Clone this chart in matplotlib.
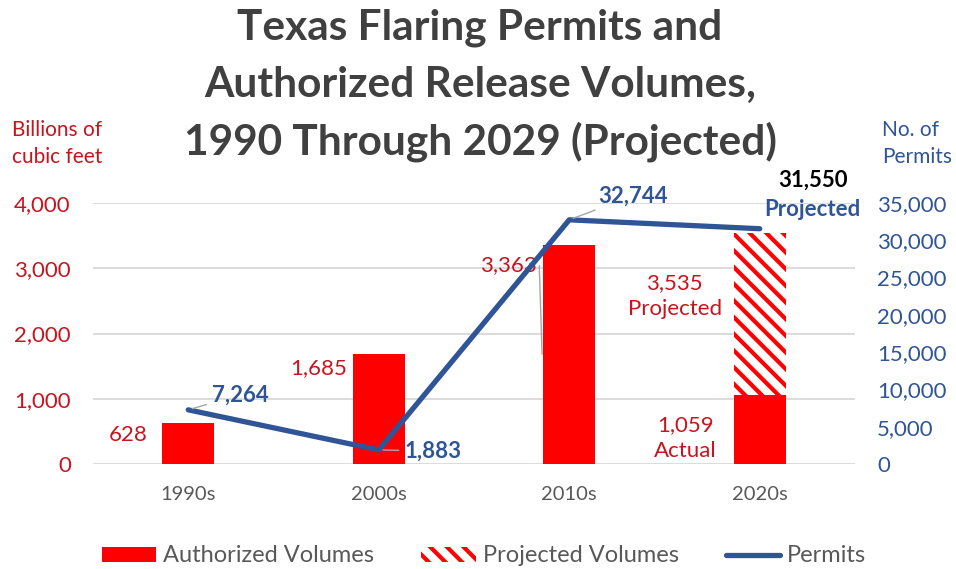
import matplotlib
matplotlib.use('Agg')
import matplotlib.pyplot as plt
from matplotlib.patches import Patch
from matplotlib.lines import Line2D

categories = ['1990s', '2000s', '2010s', '2020s']
authorized = [628, 1685, 3363, 1059]
projected_2020s = 3535
permits = [7264, 1883, 32744, 31550]
left_ticks = [0, 1000, 2000, 3000, 4000]
right_ticks = [0, 5000, 10000, 15000, 20000, 25000, 30000, 35000]
title_lines = ['Texas Flaring Permits and', 'Authorized Release Volumes,', '1990 Through 2029 (Projected)']

plt.rcParams['font.family'] = ['Lato', 'DejaVu Sans']
plt.rcParams['hatch.linewidth'] = 3.0

RED = '#FF0000'
DRED = '#C8141E'
BLUE = '#2F5597'
GRAY = '#595959'
TGRAY = '#404040'
LEAD = '#A6A6A6'

W, H = 956, 569
fig = plt.figure(figsize=(W / 100, H / 100), dpi=100)
ax = fig.add_axes([93 / W, 1 - 464 / H, (855 - 93) / W, (464 - 203) / H])
ax2 = ax.twinx()

x = list(range(len(categories)))
bw = 0.275
ax.bar(x, authorized, width=bw, color=RED, zorder=2)
ax.bar(3, projected_2020s - authorized[3], bottom=authorized[3], width=bw,
       color='white', edgecolor=RED, hatch='\\\\', linewidth=0, zorder=2)

ax2.plot(x, permits, color=BLUE, lw=3.8, solid_capstyle='round',
         solid_joinstyle='round', zorder=3)

ax.set_xlim(-0.5, 3.5)
ax.set_ylim(0, 4000)
ax2.set_ylim(0, 35000)
ax.set_axisbelow(True)
ax.yaxis.grid(True, color='#D9D9D9', lw=1.3)
ax.xaxis.grid(False)
for a in (ax, ax2):
    for s in a.spines.values():
        s.set_visible(False)

ax.set_xticks(x)
ax.set_xticklabels(categories, color=GRAY, fontsize=14.5)
ax.set_yticks(left_ticks)
ax.set_yticklabels([f'{v:,}' for v in left_ticks], color=DRED, fontsize=16)
ax2.set_yticks(right_ticks)
ax2.set_yticklabels([f'{v:,}' for v in right_ticks], color=BLUE, fontsize=16)
ax.tick_params(axis='y', length=0, pad=16)
ax2.tick_params(axis='y', length=0, pad=16)
ax.tick_params(axis='x', length=0, pad=16)

# bar value labels
bar_offsets = [(-60, -12), (-60, -14), (-61, -21)]
for i in range(3):
    ax.annotate(f'{authorized[i]:,}', xy=(i, authorized[i]), xytext=bar_offsets[i],
                textcoords='offset pixels', ha='center', va='center',
                color=DRED, fontsize=16)
ax.annotate(f'{projected_2020s:,}\nProjected', xy=(3, projected_2020s), xytext=(-85, -63),
            textcoords='offset pixels', ha='center', va='center', color=DRED,
            fontsize=16, linespacing=1.38)
ax.annotate(f'{authorized[3]:,}\nActual', xy=(3, authorized[3]), xytext=(-74, -43),
            textcoords='offset pixels', ha='center', va='center', color=DRED,
            fontsize=16, linespacing=1.38)
# leader line for 3,363 label
ax.annotate('', xy=(2 - bw / 2 - 0.005, authorized[2] / 2),
            xytext=(2 - bw / 2 - 0.02, authorized[2] - 320), textcoords='data',
            arrowprops=dict(arrowstyle='-', color=LEAD, lw=1, shrinkA=0, shrinkB=0))

# permit labels
perm_offsets = [(52, 15), (54, -1), (64, 24)]
for i in range(3):
    ax2.annotate(f'{permits[i]:,}', xy=(i, permits[i]), xytext=perm_offsets[i],
                 textcoords='offset pixels', ha='center', va='center',
                 color=BLUE, fontsize=16, fontweight='bold',
                 arrowprops=dict(arrowstyle='-', color=LEAD, lw=1, shrinkA=2, shrinkB=3))
ax2.annotate(f'{permits[3]:,}', xy=(3, permits[3]), xytext=(53, 49),
             textcoords='offset pixels', ha='center', va='center',
             color='black', fontsize=16, fontweight='bold')
ax2.annotate('Projected', xy=(3, permits[3]), xytext=(53, 19),
             textcoords='offset pixels', ha='center', va='center',
             color=BLUE, fontsize=16, fontweight='bold')

# axis titles
fig.text(12 / W, 1 - 143.5 / H, 'Billions of\ncubic feet', color=DRED, fontsize=15,
         ha='left', va='center', linespacing=1.47)
fig.text(882 / W, 1 - 143.5 / H, 'No. of\nPermits', color=BLUE, fontsize=15,
         ha='left', va='center', linespacing=1.47)

# title
for k, t in enumerate(title_lines):
    fig.text(480 / W, 1 - (28 + 57 * k) / H, t, ha='center', va='center',
             fontsize=30.5, fontweight='bold', color=TGRAY)

handles = [Patch(facecolor=RED, edgecolor='none'),
           Patch(facecolor='white', edgecolor=RED, hatch='\\\\', linewidth=0),
           Line2D([0], [0], color=BLUE, lw=3.8, solid_capstyle='round')]
labels = ['Authorized Volumes', 'Projected Volumes', 'Permits']
leg = fig.legend(handles, labels, loc='center', bbox_to_anchor=(484 / W, 1 - 556 / H),
                 ncol=3, frameon=False, fontsize=17, handlelength=2.3, handleheight=0.6,
                 handletextpad=0.3, columnspacing=2.0, borderpad=0.2)
for t in leg.get_texts():
    t.set_color(GRAY)

fig.savefig('out.png', dpi=100)
